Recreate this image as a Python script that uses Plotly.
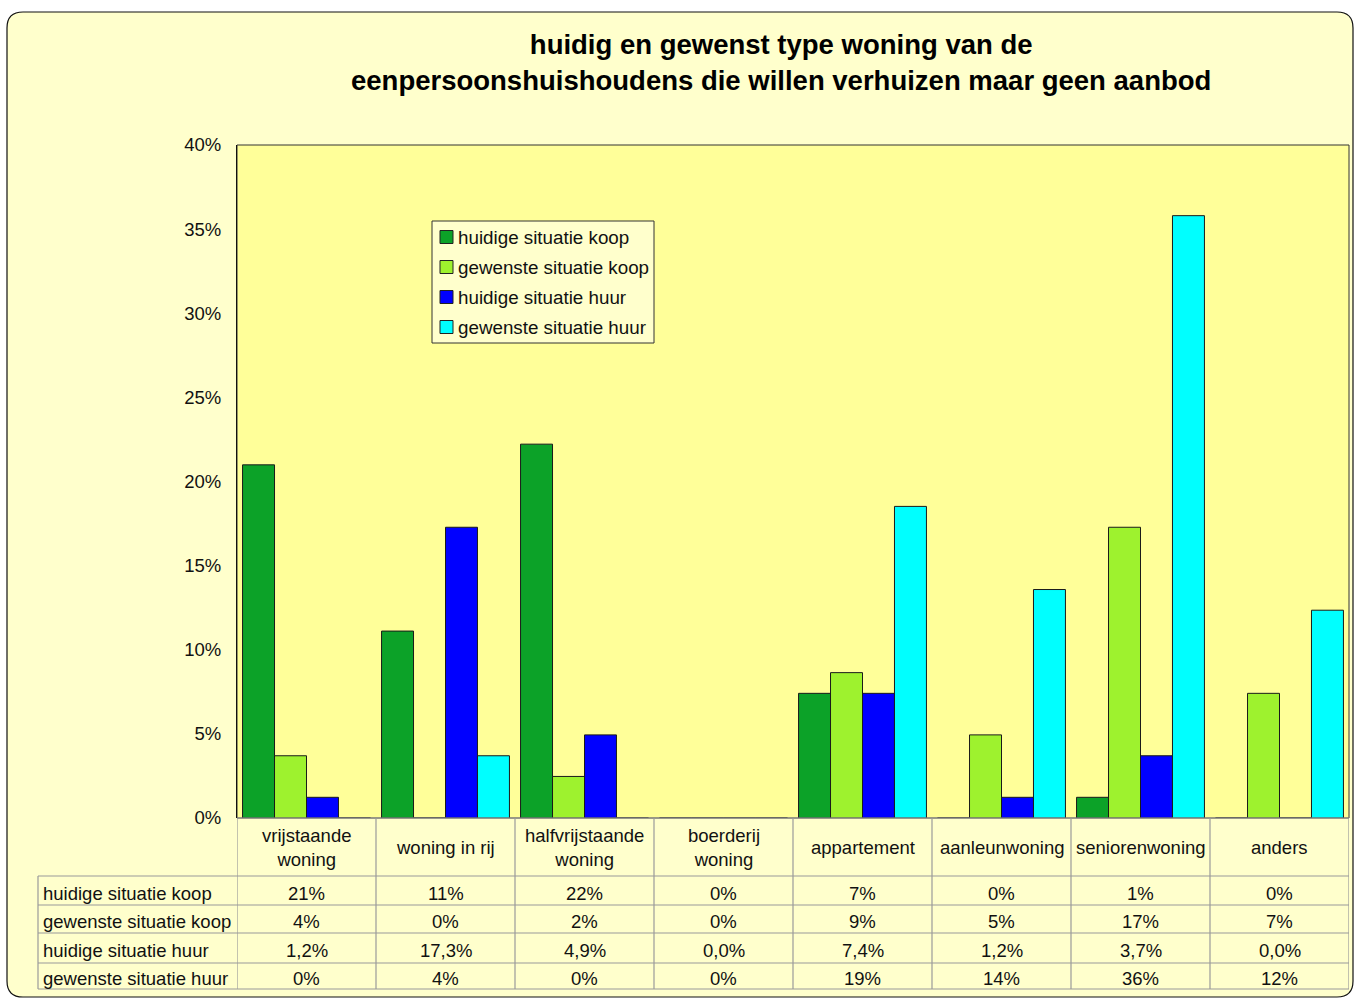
import plotly.graph_objects as go

# Woningtypes (kolommen) en de vier reeksen, in procenten
categories = [
    "vrijstaande<br>woning", "woning in rij", "halfvrijstaande<br>woning",
    "boerderij<br>woning", "appartement", "aanleunwoning",
    "seniorenwoning", "anders",
]
series_names = [
    "huidige situatie koop", "gewenste situatie koop",
    "huidige situatie huur", "gewenste situatie huur",
]
huidig_koop = [20.99, 11.11, 22.22, 0.0, 7.41, 0.0, 1.23, 0.0]
gewenst_koop = [3.70, 0.0, 2.47, 0.0, 8.64, 4.94, 17.28, 7.41]
huidig_huur = [1.23, 17.28, 4.94, 0.0, 7.41, 1.23, 3.70, 0.0]
gewenst_huur = [0.0, 3.70, 0.0, 0.0, 18.52, 13.58, 35.80, 12.35]
series_values = [huidig_koop, gewenst_koop, huidig_huur, gewenst_huur]
# decimalen per rij in de datatabel
table_decimals = [0, 0, 1, 0]
y_ticks = [0, 5, 10, 15, 20, 25, 30, 35, 40]

colors = ["#0ca228", "#9ef22e", "#0000ff", "#00ffff"]
FONT = "Liberation Sans, Arial, sans-serif"

# page geometry (pixels)
W, H = 1354, 998
ML, MR, MT, MB = 237, 5, 145, 180
PW, PH = W - ML - MR, H - MT - MB


def px(p):
    return (p - ML) / PW


def py(p):
    return (H - MB - p) / PH


def fmt(v, d):
    s = f"{v:.{d}f}%"
    return s.replace(".", ",")


xs = list(range(len(categories)))
fig = go.Figure()
for name, vals, col in zip(series_names, series_values, colors):
    fig.add_trace(go.Bar(
        x=xs, y=vals, name=name, showlegend=False,
        marker=dict(color=col, line=dict(color="#1a1a1a", width=1)),
    ))

shapes = []
# rounded outer frame
x0, x1, y0, y1, r = 7, 1353, 12, 997, 16
rx, ry = r / PW, r / PH
path = (
    f"M {px(x0)+rx},{py(y0)} L {px(x1)-rx},{py(y0)} "
    f"Q {px(x1)},{py(y0)} {px(x1)},{py(y0)-ry} "
    f"L {px(x1)},{py(y1)+ry} Q {px(x1)},{py(y1)} {px(x1)-rx},{py(y1)} "
    f"L {px(x0)+rx},{py(y1)} Q {px(x0)},{py(y1)} {px(x0)},{py(y1)+ry} "
    f"L {px(x0)},{py(y0)-ry} Q {px(x0)},{py(y0)} {px(x0)+rx},{py(y0)} Z"
)
shapes.append(dict(type="path", path=path, xref="paper", yref="paper",
                   fillcolor="#ffffcc", line=dict(color="#111111", width=1.2),
                   layer="below"))
# plot area
shapes.append(dict(type="rect", xref="x domain", yref="y domain",
                   x0=0, x1=1, y0=0, y1=1, fillcolor="#ffff99",
                   line=dict(color="#333333", width=1), layer="below"))

# data table below the plot
grid = "#9a9a9a"
row_lines = [818, 876, 905, 933, 963, 989]
n = len(categories)
left_px = 38
for i, yl in enumerate(row_lines):
    xa = px(left_px) if i >= 1 else 0
    shapes.append(dict(type="line", xref="paper", yref="paper",
                       x0=xa, x1=1, y0=py(yl), y1=py(yl),
                       line=dict(color=grid, width=1.2)))
for k in range(n + 1):
    shapes.append(dict(type="line", xref="x", yref="paper",
                       x0=k - 0.5, x1=k - 0.5, y0=py(818), y1=py(989),
                       line=dict(color=grid, width=1.2)))
shapes.append(dict(type="line", xref="paper", yref="paper",
                   x0=px(left_px), x1=px(left_px), y0=py(876), y1=py(989),
                   line=dict(color=grid, width=1.2)))

annotations = []
tfont = dict(family=FONT, size=18.5, color="#111111")
for k, c in enumerate(categories):
    annotations.append(dict(x=k, y=py(847), xref="x", yref="paper",
                            text=c, showarrow=False, font=tfont,
                            xanchor="center", yanchor="middle"))
for j, (name, vals, d) in enumerate(zip(series_names, series_values, table_decimals)):
    yc = py((row_lines[j + 1] + row_lines[j + 2]) / 2 + 2.5)
    annotations.append(dict(x=px(41), y=yc, xref="paper", yref="paper",
                            text=name, showarrow=False, font=tfont,
                            xanchor="left", yanchor="middle"))
    for k, v in enumerate(vals):
        annotations.append(dict(x=k, y=yc, xref="x", yref="paper",
                                text=fmt(v, d), showarrow=False, font=tfont,
                                xanchor="center", yanchor="middle"))

# legend box with swatches
lg_x0, lg_x1, lg_y0, lg_y1 = 432, 654, 221, 343
shapes.append(dict(type="rect", xref="paper", yref="paper",
                   x0=px(lg_x0), x1=px(lg_x1), y0=py(lg_y0), y1=py(lg_y1),
                   fillcolor="#ffffcc", line=dict(color="#333333", width=1)))
for j, (name, col) in enumerate(zip(series_names, colors)):
    yc = 237 + 30 * j
    shapes.append(dict(type="rect", xref="paper", yref="paper",
                       x0=px(440), x1=px(453), y0=py(yc - 6.5), y1=py(yc + 6.5),
                       fillcolor=col, line=dict(color="#222222", width=1)))
    annotations.append(dict(x=px(456), y=py(yc + 0.5), xref="paper", yref="paper",
                            text=name, showarrow=False,
                            font=dict(family=FONT, size=18.8, color="#111111"),
                            xanchor="left", yanchor="middle"))

annotations.append(dict(
    x=px(781), y=py(62.5), xref="paper", yref="paper", showarrow=False,
    text="<b>huidig en gewenst type woning van de<br>"
         "eenpersoonshuishoudens die willen verhuizen maar geen aanbod</b>",
    font=dict(family=FONT, size=27.5, color="#000000"),
    xanchor="center", yanchor="middle",
))

fig.update_layout(
    width=W, height=H,
    margin=dict(l=ML, r=MR, t=MT, b=MB),
    paper_bgcolor="#ffffff", plot_bgcolor="rgba(0,0,0,0)",
    barmode="group", bargap=0.08, bargroupgap=0,
    font=dict(family=FONT, size=18.5, color="#111111"),
    showlegend=False,
    xaxis=dict(range=[-0.5, n - 0.5], showticklabels=False, showgrid=False,
               zeroline=False, showline=False, ticks=""),
    yaxis=dict(range=[0, 40], tickvals=y_ticks,
               ticktext=[f"{t}%" for t in y_ticks], showgrid=False,
               zeroline=False, showline=True, linecolor="#111111",
               linewidth=1.2, ticks="", ticklabelstandoff=11,
               tickfont=dict(family=FONT, size=18.5, color="#111111")),
    shapes=shapes, annotations=annotations,
)

fig.write_html("out.html")
